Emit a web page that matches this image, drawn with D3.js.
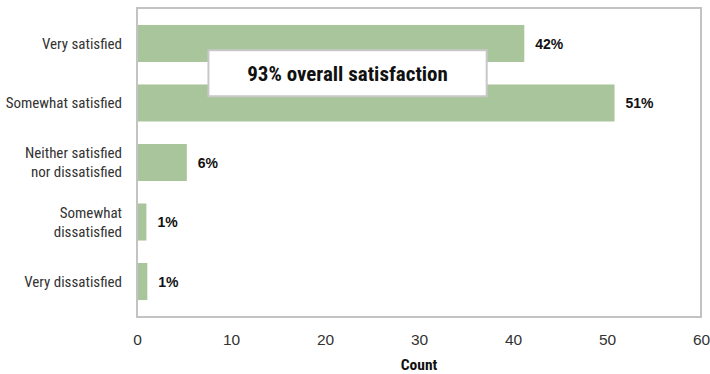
<!DOCTYPE html>
<html>
<head>
<meta charset="utf-8">
<script src="https://cdn.jsdelivr.net/npm/d3@7"></script>
<style>
  body { margin: 0; background: #fff; }
  svg { display: block; font-family: "Liberation Sans Narrow", "Roboto Condensed", "Roboto", sans-serif; }
</style>
</head>
<body>
<svg id="ch" width="710" height="374"></svg>
<script>
// data
var categories = [
    ["Very satisfied"],
    ["Somewhat satisfied"],
    ["Neither satisfied", "nor dissatisfied"],
    ["Somewhat", "dissatisfied"],
    ["Very dissatisfied"]
];
var counts = [41.2, 50.8, 5.3, 1.0, 1.1];
var pctLabels = ["42%", "51%", "6%", "1%", "1%"];
var xTicks = [0, 10, 20, 30, 40, 50, 60];
var note = "93% overall satisfaction";

var margin = {top: 8, right: 9, bottom: 57, left: 137},
    width  = 710 - margin.left - margin.right,
    height = 374 - margin.top  - margin.bottom;

var svg = d3.select("#ch");
var g = svg.append("g").attr("transform", "translate(" + margin.left + "," + margin.top + ")");

var x = d3.scaleLinear().domain([0, 60]).range([0, width]);
var y = d3.scaleBand()
    .domain(d3.range(counts.length))
    .range([0, height])
    .paddingInner(0.378)
    .paddingOuter(0.285);

// bars
g.selectAll(".bar")
    .data(counts)
    .enter()
    .append("rect")
    .attr("class", "bar")
    .attr("x", x(0) + 1)
    .attr("y", function (d, i) { return y(i); })
    .attr("width", function (d) { return x(d) - x(0) - 1; })
    .attr("height", y.bandwidth())
    .style("fill", "#a9c59b");

// frame
g.append("rect")
    .attr("x", 0).attr("y", 0)
    .attr("width", width).attr("height", height)
    .style("fill", "none")
    .style("stroke", "#c3c3c3")
    .style("stroke-width", 2);

// value labels
g.selectAll(".val")
    .data(counts)
    .enter()
    .append("text")
    .attr("class", "val")
    .attr("x", function (d) { return x(d) + 11; })
    .attr("y", function (d, i) { return y(i) + y.bandwidth() / 2; })
    .attr("dy", "0.36em")
    .style("font-family", "'Liberation Sans', Arial, sans-serif")
    .style("font-size", "14px")
    .style("font-weight", "bold")
    .style("fill", "#111")
    .text(function (d, i) { return pctLabels[i]; });

// category labels
var cat = g.selectAll(".cat")
    .data(categories)
    .enter()
    .append("text")
    .attr("class", "cat")
    .attr("text-anchor", "end")
    .attr("transform", function (d, i) { return "translate(-15," + (y(i) + y.bandwidth() / 2) + ")"; })
    .style("font-size", "15px")
    .style("fill", "#333");
cat.selectAll("tspan")
    .data(function (d) { return d; })
    .enter()
    .append("tspan")
    .attr("x", 0)
    .attr("y", function (d, i, nodes) { return (i - (nodes.length - 1) / 2) * 19; })
    .attr("dy", "0.36em")
    .text(function (d) { return d; });

// x axis
var xAxis = g.append("g")
    .attr("transform", "translate(0," + height + ")")
    .call(d3.axisBottom(x).tickValues(xTicks).tickSize(0).tickPadding(17));
xAxis.select(".domain").remove();
xAxis.selectAll("text")
    .style("font-family", "inherit")
    .style("font-size", "15.5px")
    .style("fill", "#333");

g.append("text")
    .attr("x", width / 2)
    .attr("y", height + 53)
    .attr("text-anchor", "middle")
    .style("font-size", "15.5px")
    .style("font-weight", "bold")
    .style("fill", "#111")
    .text("Count");

// annotation box between first two bars
var boxX0 = x(7.6), boxX1 = x(37.2);
var boxMid = (y(0) + y.bandwidth() + y(1)) / 2;
g.append("rect")
    .attr("x", boxX0)
    .attr("y", boxMid - 23)
    .attr("width", boxX1 - boxX0)
    .attr("height", 46)
    .style("fill", "#fff")
    .style("stroke", "#c8c8c8")
    .style("stroke-width", 2);
g.append("text")
    .attr("x", (boxX0 + boxX1) / 2)
    .attr("y", boxMid)
    .attr("dy", "0.36em")
    .attr("text-anchor", "middle")
    .style("font-size", "21px")
    .style("font-weight", "bold")
    .style("fill", "#111")
    .text(note);
</script>
</body>
</html>
